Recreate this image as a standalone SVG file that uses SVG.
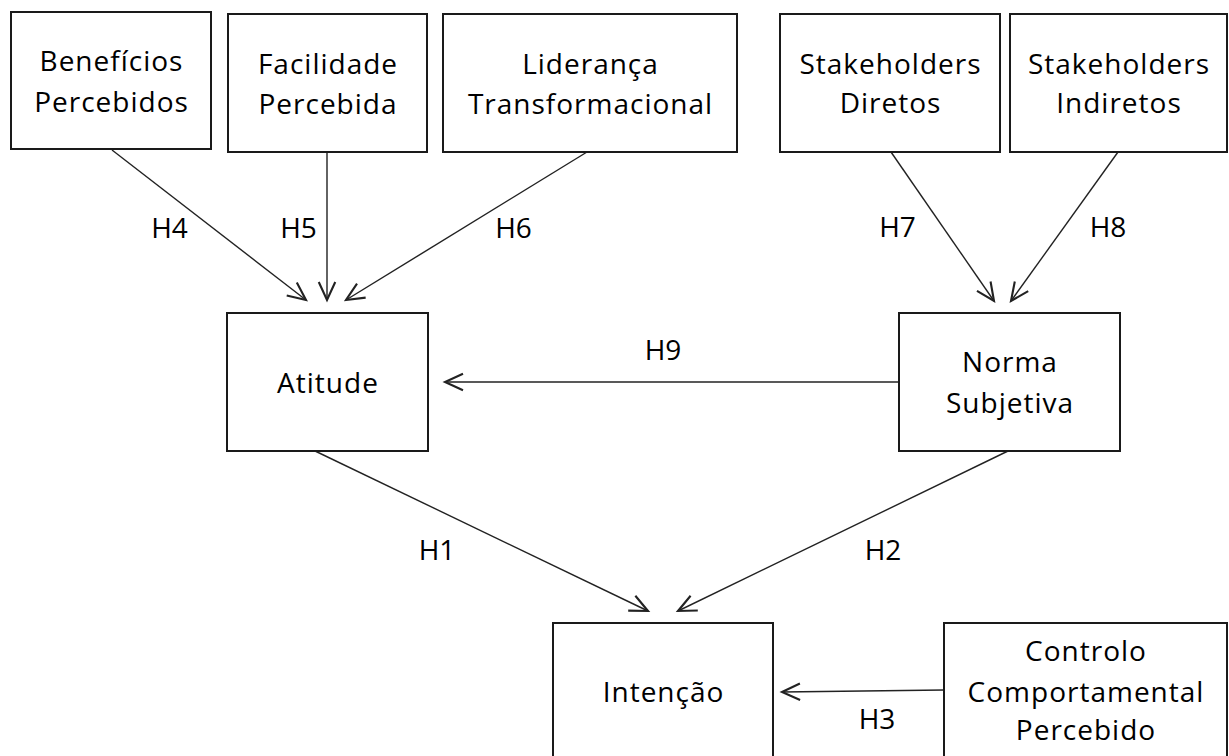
<svg xmlns="http://www.w3.org/2000/svg" width="1229" height="756" viewBox="0 0 1229 756">
<defs>
<marker id="arr" markerUnits="userSpaceOnUse" markerWidth="30" markerHeight="30" viewBox="-15 -10 20 20" refX="0" refY="0" orient="auto">
<path d="M-12,-5.5 L0,0 L-12,5.5" fill="none" stroke="#222" stroke-width="1.4"/>
</marker>
<style>
.box{fill:#fff;stroke:#1a1a1a;stroke-width:2}
.t{font-family:"Open Sans","Noto Sans",sans-serif;font-size:28px;letter-spacing:1px;fill:#000;text-anchor:middle}
.lbl{font-family:"Open Sans","Noto Sans",sans-serif;font-size:28px;fill:#000;text-anchor:middle}
.c{stroke:#222;stroke-width:1.4;fill:none;marker-end:url(#arr)}
</style>
</defs>
<rect width="1229" height="756" fill="#fff"/>
<g id="connectors">
<line class="c" x1="112" y1="150" x2="306" y2="300"/>
<line class="c" x1="327" y1="152" x2="327" y2="300"/>
<line class="c" x1="587" y1="152" x2="346" y2="300"/>
<line class="c" x1="891" y1="152" x2="994" y2="301"/>
<line class="c" x1="1118" y1="152" x2="1011" y2="301"/>
<line class="c" x1="899" y1="382" x2="445" y2="382"/>
<line class="c" x1="313" y1="450" x2="648" y2="611"/>
<line class="c" x1="1008" y1="451" x2="678" y2="611"/>
<line class="c" x1="944" y1="690" x2="782" y2="692"/>
<g id="labels">
<text class="lbl" x="169.5" y="238">H4</text>
<text class="lbl" x="298.5" y="238">H5</text>
<text class="lbl" x="513.5" y="238">H6</text>
<text class="lbl" x="897.5" y="237">H7</text>
<text class="lbl" x="1108" y="237">H8</text>
<text class="lbl" x="663" y="360">H9</text>
<text class="lbl" x="437" y="560">H1</text>
<text class="lbl" x="883" y="560">H2</text>
<text class="lbl" x="877" y="729">H3</text>
</g>
</g>
<g id="beneficios">
<rect class="box" x="11" y="12" width="200" height="137"/>
<text class="t" x="111.5" y="71">Benefícios</text>
<text class="t" x="111.5" y="112">Percebidos</text>
</g>
<g id="facilidade">
<rect class="box" x="228" y="14" width="199" height="138"/>
<text class="t" x="328" y="74">Facilidade</text>
<text class="t" x="328" y="114">Percebida</text>
</g>
<g id="lideranca">
<rect class="box" x="443" y="14" width="294" height="138"/>
<text class="t" x="590.5" y="74">Liderança</text>
<text class="t" x="590.5" y="114">Transformacional</text>
</g>
<g id="stakeholders-diretos">
<rect class="box" x="780" y="14" width="220" height="138"/>
<text class="t" x="890.5" y="74">Stakeholders</text>
<text class="t" x="890.5" y="113">Diretos</text>
</g>
<g id="stakeholders-indiretos">
<rect class="box" x="1010" y="14" width="217" height="138"/>
<text class="t" x="1119" y="74">Stakeholders</text>
<text class="t" x="1119" y="113">Indiretos</text>
</g>
<g id="atitude">
<rect class="box" x="227" y="313" width="201" height="138"/>
<text class="t" x="328" y="393">Atitude</text>
</g>
<g id="norma">
<rect class="box" x="899" y="313" width="221" height="138"/>
<text class="t" x="1010" y="372">Norma</text>
<text class="t" x="1010" y="413">Subjetiva</text>
</g>
<g id="intencao">
<rect class="box" x="553" y="623" width="220" height="140"/>
<text class="t" x="663.5" y="702">Intenção</text>
</g>
<g id="controlo">
<rect class="box" x="944" y="623" width="283" height="140"/>
<text class="t" x="1086" y="661">Controlo</text>
<text class="t" x="1086" y="702">Comportamental</text>
<text class="t" x="1086" y="740">Percebido</text>
</g>
</svg>
